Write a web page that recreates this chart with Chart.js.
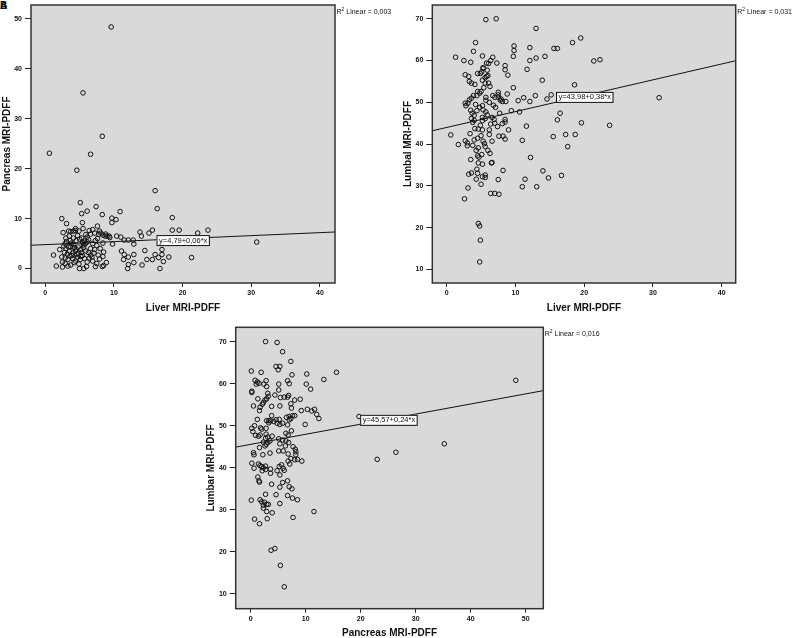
<!DOCTYPE html>
<html>
<head>
<meta charset="utf-8">
<script src="https://cdn.jsdelivr.net/npm/chart.js@4.4.1/dist/chart.umd.min.js"></script>
<style>
  html, body { margin: 0; padding: 0; background: #fff; overflow: hidden; }
  body { width: 792px; height: 638px; position: relative; }
  canvas { position: absolute; }
  .tag { position: absolute; left: 0; top: 1px; font: bold 10px "Liberation Sans", Arial, sans-serif; line-height: 10px; color: #111; }
</style>
</head>
<body>
<div class="tag">A</div><div class="tag">B</div>
<canvas id="chartA" width="400" height="320" style="left:0;top:0"></canvas>
<canvas id="chartB" width="392" height="320" style="left:400px;top:0"></canvas>
<canvas id="chartC" width="410" height="322" style="left:200px;top:318px"></canvas>
<script>
// panel A: liver (x) vs pancreas (y)
const liverPancreas = [
  [9.6,48.4],[5.5,35.2],[8.3,26.5],[0.6,23.1],[6.6,22.9],[4.6,19.7],[16.0,15.6],[16.3,12.0],[18.5,10.2],[5.1,13.2],
  [7.4,12.4],[6.1,11.5],[5.3,11.0],[10.9,11.4],[8.3,10.8],[9.7,10.1],[10.3,9.8],[2.4,10.0],[3.1,9.0],[5.4,9.2],
  [9.7,9.2],[7.6,8.5],[13.8,7.3],[15.6,7.7],[15.1,7.1],[18.5,7.7],[19.5,7.7],[22.2,7.1],[23.7,7.7],[30.8,5.3],
  [14.0,6.5],[10.4,6.5],[11.0,6.3],[11.5,5.7],[12.1,5.7],[12.8,5.7],[12.9,4.9],[9.8,4.9],[14.5,3.6],[12.9,2.8],
  [11.1,3.5],[11.5,2.8],[12.1,2.3],[11.4,1.8],[12.1,0.8],[12.0,0.0],[12.9,1.2],[14.1,0.7],[14.8,1.8],[15.6,1.8],
  [16.0,2.8],[16.5,2.2],[17.0,3.8],[17.0,2.8],[17.2,1.4],[16.7,0.0],[18.0,2.3],[21.3,2.2],[1.2,2.7],[1.6,0.5],
  [2.5,0.3],[2.6,7.2],[3.0,6.1],[3.4,7.5],[3.7,7.4],[4.1,7.5],[4.4,7.6],[4.9,7.5],[4.4,8.0],[5.5,8.0],
  [6.4,7.6],[6.9,7.8],[7.2,7.1],[6.6,6.9],[7.8,6.9],[8.1,7.1],[8.4,6.7],[8.7,6.5],[9.0,6.5],[9.3,6.5],
  [3.1,5.4],[3.6,5.6],[4.1,6.1],[4.5,5.6],[5.0,5.9],[5.5,5.1],[5.6,4.7],[5.8,4.9],[5.4,5.3],[5.7,5.5],
  [6.1,6.3],[6.1,5.3],[7.3,5.6],[7.5,4.6],[8.4,5.1],[2.7,4.5],[3.0,4.0],[3.4,4.3],[3.7,4.4],[4.2,4.2],
  [4.8,4.3],[5.2,3.8],[2.1,3.8],[2.8,3.2],[3.5,3.5],[4.0,3.1],[4.4,3.5],[4.8,3.0],[5.3,3.2],[5.9,3.5],
  [6.3,3.2],[7.2,3.8],[7.1,3.1],[6.6,2.7],[8.5,3.3],[8.4,2.4],[2.4,2.3],[2.9,2.1],[3.3,1.8],[3.6,2.5],
  [4.0,2.0],[4.4,1.5],[4.7,2.3],[5.1,1.8],[5.4,2.6],[5.7,2.0],[6.1,1.3],[6.4,2.1],[6.9,1.5],[7.5,1.0],
  [7.9,1.9],[2.5,1.3],[2.9,1.0],[3.7,0.7],[4.2,1.2],[5.0,0.0],[5.6,0.0],[6.0,0.4],[7.3,0.4],[8.3,0.4],
  [8.5,0.6],[8.9,1.2],[3.2,2.9],[3.9,2.6],[4.6,2.8],[5.2,2.4],[6.8,2.3],[7.7,2.7],[3.5,6.5],[4.7,6.6],
  [5.9,6.8],[6.3,5.8],[6.9,5.0],[7.6,6.0],[8.0,4.0],[4.1,4.8],[4.5,3.9],[5.6,4.2],[6.6,4.0],[3.8,5.1],
  [2.9,5.0],[5.3,6.1],[8.8,6.9],[9.4,6.2],[7.9,7.5],[4.9,0.9],[3.3,0.5]
];

// panel B: liver (x) vs lumbal (y)
const liverLumbal = [
  [5.7,69.8],[7.2,70.0],[13.0,67.7],[19.5,65.4],[4.2,64.3],[18.3,64.3],[9.8,63.5],[9.8,62.4],[12.1,63.1],[15.6,62.9],
  [16.1,62.9],[3.9,62.2],[1.3,60.8],[5.2,61.1],[6.7,60.8],[9.7,61.0],[13.0,60.6],[14.3,61.0],[2.5,60.0],[3.5,59.6],
  [12.1,60.0],[21.4,59.9],[22.3,60.2],[7.3,59.4],[5.8,59.4],[6.4,60.0],[8.5,58.8],[8.5,57.8],[5.3,58.3],[5.9,57.7],
  [11.7,57.9],[8.9,56.5],[2.7,56.6],[3.2,56.2],[4.5,56.9],[4.9,56.9],[5.6,55.9],[6.0,56.4],[5.2,55.3],[13.9,55.3],
  [3.3,55.0],[3.6,54.6],[4.1,54.3],[6.1,54.6],[6.3,53.8],[18.6,54.2],[9.7,53.5],[5.4,53.5],[4.5,52.6],[5.0,52.6],
  [7.5,52.4],[7.5,51.8],[7.5,51.2],[8.8,52.0],[6.7,51.6],[7.0,51.2],[11.2,51.1],[12.9,51.6],[15.2,51.8],[3.9,51.6],
  [4.4,51.6],[3.6,51.0],[5.7,51.2],[5.7,50.5],[2.7,49.8],[2.8,49.2],[3.1,49.8],[7.1,48.8],[7.9,50.8],[7.8,50.5],
  [8.1,50.2],[8.6,50.2],[10.4,50.4],[12.1,50.2],[14.6,50.8],[30.9,51.1],[5.2,49.2],[4.8,48.8],[5.3,48.2],[5.7,47.7],
  [9.4,48.0],[10.6,47.7],[16.5,47.4],[3.5,48.1],[3.7,47.4],[4.0,46.9],[7.7,47.4],[3.6,46.1],[4.0,45.7],[5.2,46.4],
  [5.6,46.1],[5.2,45.6],[6.6,46.4],[6.9,45.9],[8.5,45.9],[8.5,45.3],[16.1,45.8],[19.6,45.1],[4.1,43.7],[4.6,43.6],
  [5.2,43.4],[6.2,43.4],[7.4,44.2],[9.0,43.4],[11.6,44.3],[23.7,44.5],[0.6,42.2],[6.2,42.3],[7.6,41.9],[8.2,41.9],
  [8.5,41.2],[15.5,41.8],[17.3,42.3],[18.7,42.3],[1.7,39.9],[2.7,40.8],[3.0,40.3],[3.0,39.6],[3.8,39.7],[4.5,41.4],
  [4.6,39.1],[5.3,40.7],[5.5,40.1],[5.6,39.4],[6.0,38.5],[6.6,40.7],[11.0,40.9],[17.6,39.4],[3.5,36.3],[4.5,37.2],
  [4.7,36.9],[12.2,36.8],[6.6,35.6],[6.5,35.5],[5.2,35.2],[4.4,34.0],[8.2,33.7],[14.0,33.6],[3.2,32.8],[3.6,33.1],
  [4.5,33.0],[5.6,32.6],[5.2,32.2],[5.6,32.0],[4.3,31.6],[7.5,31.5],[11.4,31.6],[14.8,31.9],[16.7,32.5],[5.0,30.4],
  [3.1,29.5],[11.0,29.8],[13.1,29.8],[6.4,28.2],[7.0,28.2],[7.6,28.0],[2.6,26.9],[4.6,21.0],[4.8,20.4],[4.9,17.0],
  [4.8,11.8],[5.1,57.3],[5.3,58.1],[6.1,59.3],[5.8,56.2],[5.6,54.6],[4.8,52.2],[3.3,50.6],[4.2,49.5],[6.2,50.0],
  [6.8,49.3],[4.4,48.0],[3.8,45.2],[4.9,44.5],[6.4,44.8],[5.9,47.0],[7.0,45.0],[8.1,44.9],[3.4,42.5],[4.0,41.0],
  [5.0,42.0],[4.3,38.5],[5.1,37.5],[6.3,37.8],[4.6,35.5]
];

// panel C: pancreas (x) vs lumbar (y)
const pancreasLumbar = [
  [2.7,70.0],[4.8,69.8],[5.8,67.6],[7.3,65.3],[4.6,64.1],[5.3,64.1],[5.0,63.3],[0.1,63.0],[1.9,62.7],[7.5,62.1],
  [10.2,62.3],[15.6,62.7],[13.3,61.0],[48.2,60.8],[0.8,60.8],[2.8,60.7],[1.2,60.4],[1.5,60.1],[6.7,60.7],[5.1,59.9],
  [10.1,59.9],[7.0,60.0],[1.0,59.9],[2.4,59.9],[2.9,59.3],[0.2,58.2],[0.2,57.9],[5.1,58.5],[10.9,58.7],[3.1,57.7],
  [3.2,57.0],[2.9,56.4],[2.6,56.1],[1.3,56.4],[4.4,57.3],[6.1,56.8],[6.7,56.8],[6.9,57.2],[5.4,56.7],[8.0,56.1],
  [9.0,56.3],[0.5,54.7],[3.8,54.6],[2.1,55.1],[2.3,55.5],[5.3,54.7],[7.3,55.2],[7.4,54.2],[9.2,53.6],[10.3,53.9],
  [11.1,53.5],[11.6,53.9],[12.0,52.7],[12.4,51.7],[1.6,53.6],[1.7,54.4],[3.8,52.4],[4.6,51.4],[5.2,51.5],[4.2,51.0],
  [3.6,51.2],[2.9,51.2],[3.3,50.7],[5.8,50.6],[4.8,50.6],[5.3,50.3],[6.5,52.0],[7.0,52.2],[7.3,51.7],[7.0,51.4],
  [7.6,52.4],[8.0,52.4],[1.2,51.5],[1.8,49.5],[2.0,49.2],[0.7,50.0],[0.2,49.4],[0.4,48.6],[0.9,47.7],[1.4,47.5],
  [1.7,47.8],[2.8,49.4],[3.3,51.2],[9.9,50.3],[19.7,52.2],[6.7,50.2],[6.8,47.8],[6.4,48.2],[7.4,48.8],[3.9,47.5],
  [2.8,48.0],[3.1,47.3],[2.7,47.0],[3.5,46.4],[2.3,46.1],[3.1,46.0],[2.6,45.2],[2.8,45.6],[1.6,44.8],[5.1,46.9],
  [5.8,46.6],[5.3,45.7],[6.4,46.4],[6.9,46.0],[6.3,45.2],[7.7,45.0],[8.1,44.4],[8.2,43.8],[8.2,43.1],[0.5,43.6],
  [0.6,43.1],[2.2,43.1],[3.5,43.5],[5.1,44.0],[5.9,44.0],[6.8,43.3],[7.3,42.2],[6.8,41.6],[7.1,40.9],[8.0,41.9],
  [8.5,42.0],[9.3,41.6],[0.2,41.1],[0.6,39.9],[1.4,40.9],[1.7,40.5],[2.0,40.3],[2.3,40.0],[2.1,39.3],[2.7,40.4],
  [2.7,39.6],[4.8,39.3],[5.2,40.3],[5.6,40.7],[6.1,39.4],[5.9,39.9],[3.6,39.7],[3.6,38.7],[5.3,38.3],[23.0,42.0],
  [26.4,43.7],[35.2,45.7],[1.3,37.8],[1.5,36.9],[1.6,36.6],[5.8,36.5],[6.7,36.9],[3.8,36.1],[5.3,35.4],[7.0,35.5],
  [7.5,35.0],[2.7,33.7],[4.6,33.6],[6.7,33.4],[7.6,32.8],[8.5,32.4],[0.1,32.3],[1.7,32.4],[2.0,31.9],[2.5,31.8],
  [2.3,31.1],[2.9,31.3],[3.2,31.3],[5.3,31.5],[2.3,30.4],[2.9,29.6],[3.9,29.3],[11.5,29.6],[0.7,27.8],[3.0,27.9],
  [7.7,28.2],[1.6,26.7],[3.7,20.4],[4.4,20.8],[5.4,16.8],[6.1,11.7]
];

const liverTicks = [0, 10, 20, 30, 40];
const pancreasTicks = [0, 10, 20, 30, 40, 50];
const lumbarTicks = [10, 20, 30, 40, 50, 60, 70];

const FONT = '"Liberation Sans", Arial, sans-serif';
Chart.defaults.font.family = FONT;
Chart.defaults.color = '#111';

const framePlugin = {
  id: 'frame',
  beforeDraw(chart) {
    const a = chart.chartArea, ctx = chart.ctx;
    ctx.save();
    ctx.fillStyle = '#d9d9d9';
    ctx.fillRect(a.left, a.top, a.right - a.left, a.bottom - a.top);
    ctx.restore();
  },
  afterDraw(chart, args, opts) {
    const a = chart.chartArea, ctx = chart.ctx;
    ctx.save();
    ctx.strokeStyle = '#333';
    ctx.lineWidth = 1.5;
    ctx.strokeRect(a.left, a.top, a.right - a.left, a.bottom - a.top);

    // equation box
    const px = chart.scales.x.getPixelForValue(opts.eqAt[0]);
    const py = chart.scales.y.getPixelForValue(opts.eqAt[1]);
    ctx.font = '7.5px ' + FONT;
    const w = ctx.measureText(opts.eq).width + 4;
    ctx.fillStyle = '#fff';
    ctx.fillRect(px, py - 5, w, 10);
    ctx.strokeStyle = '#111';
    ctx.lineWidth = 1;
    ctx.strokeRect(px + 0.5, py - 4.5, w, 10);
    ctx.fillStyle = '#111';
    ctx.textBaseline = 'middle';
    ctx.fillText(opts.eq, px + 2.5, py + 0.5);

    // R2 note
    let x = a.right + 1.5, y = a.top + 7;
    ctx.font = '7px ' + FONT;
    ctx.fillText('R', x, y);
    x += ctx.measureText('R').width;
    ctx.font = '5px ' + FONT;
    ctx.fillText('2', x, y - 2.5);
    x += ctx.measureText('2').width;
    ctx.font = '7px ' + FONT;
    ctx.fillText(' Linear = ' + opts.r2, x, y);
    ctx.restore();
  }
};

function makeChart(id, points, c) {
  return new Chart(document.getElementById(id), {
    type: 'scatter',
    data: {
      datasets: [
        {
          data: points.map(p => ({ x: p[0], y: p[1] })),
          pointRadius: 2.3,
          pointBorderWidth: 1,
          pointBorderColor: '#111',
          pointBackgroundColor: 'rgba(0,0,0,0)'
        },
        {
          data: [c.xMin, c.xMax].map(x => ({ x: x, y: c.intercept + c.slope * x })),
          showLine: true,
          borderColor: '#111',
          borderWidth: 1,
          pointRadius: 0
        }
      ]
    },
    options: {
      responsive: false,
      animation: false,
      layout: { padding: c.pad },
      plugins: {
        legend: { display: false },
        tooltip: { enabled: false },
        frame: { eq: c.eq, eqAt: c.eqAt, r2: c.r2 }
      },
      scales: {
        x: {
          type: 'linear', min: c.xMin, max: c.xMax,
          afterBuildTicks: s => { s.ticks = c.xTicks.map(v => ({ value: v })); },
          afterFit: s => { s.height = c.xHeight; s.paddingLeft = 0; s.paddingRight = 0; },
          border: { display: false },
          grid: { display: true, drawOnChartArea: false, drawTicks: true, tickLength: 4, color: '#222' },
          ticks: { color: '#111', font: { size: 7, weight: 'bold' }, padding: 2, autoSkip: false, maxRotation: 0 },
          title: { display: true, text: c.xTitle, color: '#111', font: { size: 10, weight: 'bold' }, padding: { top: 0, bottom: c.xTitlePad } }
        },
        y: {
          type: 'linear', min: c.yMin, max: c.yMax,
          afterBuildTicks: s => { s.ticks = c.yTicks.map(v => ({ value: v })); },
          afterFit: s => { s.width = c.yWidth; s.paddingTop = 0; s.paddingBottom = 0; },
          border: { display: false },
          grid: { display: true, drawOnChartArea: false, drawTicks: true, tickLength: 6, color: '#222' },
          ticks: { color: '#111', font: { size: 7, weight: 'bold' }, padding: 3, autoSkip: false },
          title: { display: true, text: c.yTitle, color: '#111', font: { size: 10, weight: 'bold' }, padding: { top: c.yTitlePad, bottom: 0 } }
        }
      }
    },
    plugins: [framePlugin]
  });
}

makeChart('chartA', liverPancreas, {
  xMin: -2.08, xMax: 42.2, yMin: -2.9, yMax: 52.8,
  xTicks: liverTicks, yTicks: [0, 10, 20, 30, 40, 50],
  xTitle: 'Liver MRI-PDFF', yTitle: 'Pancreas MRI-PDFF',
  intercept: 4.79, slope: 0.06, eq: 'y=4,79+0,06*x', eqAt: [16.2, 5.7], r2: '0,003',
  pad: { top: 2, right: 65, bottom: 0, left: 0 }, yWidth: 31, xHeight: 37, xTitlePad: 6, yTitlePad: 1
});

makeChart('chartB', liverLumbal, {
  xMin: -2.09, xMax: 42.04, yMin: 6.75, yMax: 73.3,
  xTicks: liverTicks, yTicks: lumbarTicks,
  xTitle: 'Liver MRI-PDFF', yTitle: 'Lumbal MRI-PDFF',
  intercept: 43.98, slope: 0.38, eq: 'y=43,98+0,38*x', eqAt: [15.9, 51.3], r2: '0,031',
  pad: { top: 2.7, right: 56.3, bottom: 0, left: 0 }, yWidth: 32.3, xHeight: 37, xTitlePad: 6, yTitlePad: 2
});

makeChart('chartC', pancreasLumbar, {
  xMin: -2.73, xMax: 53.2, yMin: 6.5, yMax: 73.4,
  xTicks: pancreasTicks, yTicks: lumbarTicks,
  xTitle: 'Pancreas MRI-PDFF', yTitle: 'Lumbar MRI-PDFF',
  intercept: 45.57, slope: 0.24, eq: 'y=45,57+0,24*x', eqAt: [19.9, 51.4], r2: '0,016',
  pad: { top: 9.3, right: 66.7, bottom: 0, left: 0 }, yWidth: 35.7, xHeight: 31.3, xTitlePad: 1, yTitlePad: 5.5
});
</script>
</body>
</html>
